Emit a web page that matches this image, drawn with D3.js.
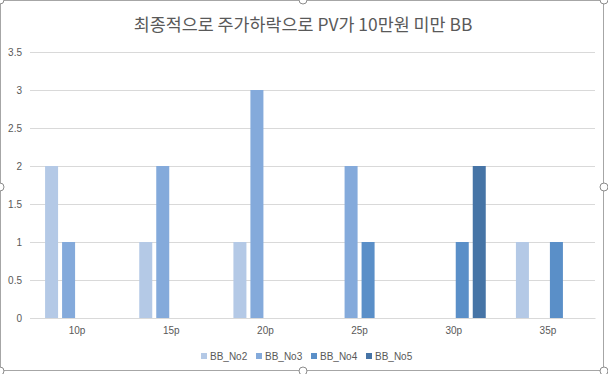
<!DOCTYPE html>
<html>
<head>
<meta charset="utf-8">
<script src="https://cdn.jsdelivr.net/npm/d3@7"></script>
<style>
  body { margin: 0; background: #fff; }
  svg { display: block; font-family: "Noto Sans CJK KR", "Noto Sans", sans-serif; }
</style>
</head>
<body>
<svg id="chart" width="608" height="374"></svg>
<script>
const categories = ['10p', '15p', '20p', '25p', '30p', '35p'];
const seriesNames = ['BB_No2', 'BB_No3', 'BB_No4', 'BB_No5'];
const bbNo2 = [2, 1, 1, 0, 0, 1];
const bbNo3 = [1, 2, 3, 2, 0, 0];
const bbNo4 = [0, 0, 0, 1, 1, 1];
const bbNo5 = [0, 0, 0, 0, 2, 0];
const yTicks = [0, 0.5, 1, 1.5, 2, 2.5, 3, 3.5];
const colors = ['#b4c9e6', '#84aadb', '#5a8fc8', '#4674a6'];
const title = '최종적으로 주가하락으로 PV가 10만원 미만 BB';

const seriesValues = [bbNo2, bbNo3, bbNo4, bbNo5];
const rows = categories.map((c, i) => ({
  cat: c,
  vals: seriesNames.map((s, k) => ({ key: s, value: seriesValues[k][i], color: colors[k] }))
}));

const svg = d3.select('#chart');
const plot = { left: 30, right: 595, top: 52, bottom: 318 };

const x = d3.scaleBand().domain(categories).range([plot.left, plot.right]).padding(0);
const groupW = 64;
const xs = d3.scaleBand().domain(seriesNames)
  .range([(x.bandwidth() - groupW) / 2, (x.bandwidth() + groupW) / 2])
  .paddingInner(0.235).paddingOuter(0);
const y = d3.scaleLinear().domain([0, 3.5]).range([plot.bottom, plot.top]);

// frame
svg.append('rect')
  .attr('x', 0.5).attr('y', 0.5).attr('width', 603).attr('height', 370)
  .attr('fill', '#fff').attr('stroke', '#a6a6a6');

// title
svg.append('text')
  .attr('x', 303).attr('y', 31)
  .attr('text-anchor', 'middle')
  .attr('font-size', 17.4).attr('fill', '#595959')
  .text(title);

// grid + y labels
svg.append('g')
  .attr('transform', `translate(${plot.left},0)`)
  .call(d3.axisLeft(y).tickValues(yTicks).tickSize(-(plot.right - plot.left)).tickPadding(8).tickFormat(d3.format('')))
  .call(g => g.select('.domain').remove())
  .call(g => g.selectAll('.tick line').attr('stroke', '#d9d9d9'))
  .call(g => g.selectAll('.tick text').attr('fill', '#595959').attr('font-size', 10)
    .attr('font-family', 'Liberation Sans, sans-serif'));

// bars
const groups = svg.append('g').selectAll('g')
  .data(rows).enter().append('g')
  .attr('transform', d => `translate(${x(d.cat)},0)`);

groups.selectAll('rect')
  .data(d => d.vals.filter(v => v.value > 0))
  .enter().append('rect')
  .attr('x', d => xs(d.key))
  .attr('y', d => y(d.value))
  .attr('width', xs.bandwidth())
  .attr('height', d => y(0) - y(d.value))
  .attr('fill', d => d.color);

// x axis
svg.append('g')
  .attr('transform', `translate(0,${plot.bottom})`)
  .call(d3.axisBottom(x).tickSize(0).tickPadding(9))
  .call(g => g.select('.domain').attr('stroke', '#d9d9d9'))
  .call(g => g.selectAll('.tick text').attr('fill', '#595959').attr('font-size', 10)
    .attr('font-family', 'Liberation Sans, sans-serif'));

// legend
const legend = svg.append('g').selectAll('g')
  .data(seriesNames).enter().append('g')
  .attr('transform', (d, i) => `translate(${201 + i * 55},353)`);
legend.append('rect')
  .attr('width', 6).attr('height', 6)
  .attr('fill', (d, i) => colors[i]);
legend.append('text')
  .attr('x', 9).attr('y', 6.5)
  .attr('font-size', 10).attr('fill', '#595959')
  .attr('font-family', 'Liberation Sans, sans-serif')
  .text(d => d);

// selection handles
const handles = [[0, 0], [303, 0], [604, 0], [0, 187], [604, 187], [0, 371], [303, 371], [604, 371]];
svg.append('g').selectAll('circle')
  .data(handles).enter().append('circle')
  .attr('cx', d => d[0]).attr('cy', d => d[1]).attr('r', 4)
  .attr('fill', '#fff').attr('stroke', '#8c8c8c');
</script>
</body>
</html>
